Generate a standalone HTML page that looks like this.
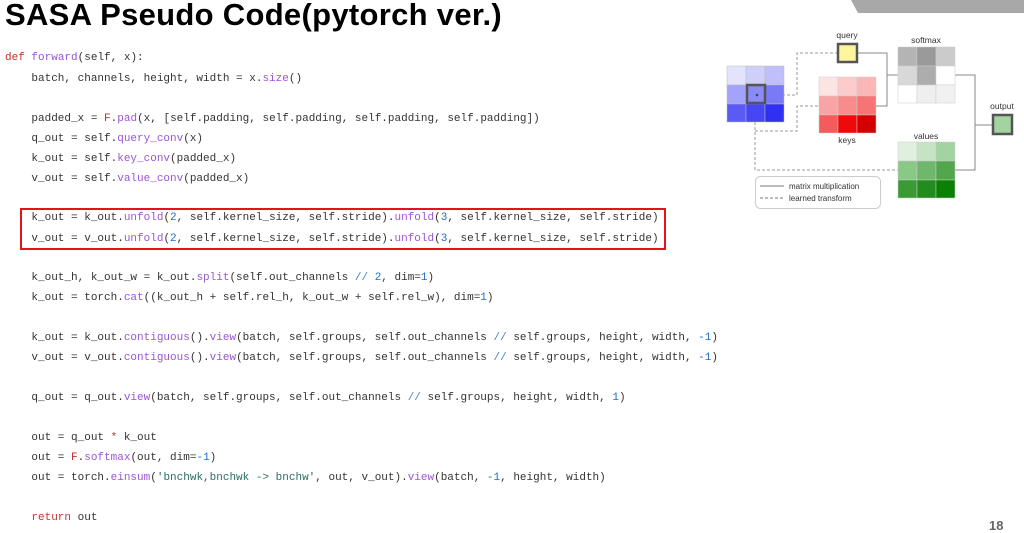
<!DOCTYPE html>
<html><head><meta charset="utf-8"><style>
html,body{margin:0;padding:0;background:#fff;}
body{width:1024px;height:531px;position:relative;overflow:hidden;}
.t{position:absolute;left:5px;top:-3px;font:bold 31px "Liberation Sans",sans-serif;color:#000;letter-spacing:0.3px;white-space:nowrap;}
.c{position:absolute;left:5px;font:11px/14px "Liberation Mono",monospace;color:#333;white-space:pre;}
.f{color:#9a55d4}.r{color:#c9302c}.n{color:#1c6fc9}.s{color:#2a6f5f}.o{color:#4a7fc0}
.box{position:absolute;left:20px;top:208px;width:642px;height:38px;border:2px solid #e8101a;}
.pg{position:absolute;left:989px;top:518px;font:bold 13px "Liberation Sans",sans-serif;color:#666;}
</style></head><body>
<div class="t">SASA Pseudo Code(pytorch ver.)</div>
<svg style="position:absolute;left:0;top:0" width="1024" height="531">
<polygon points="851,0 1024,0 1024,13 858,13" fill="#a8a8a8"/>
<g fill="none" stroke="#999" stroke-width="1" stroke-dasharray="3,2">
<polyline points="757,95 797,95 797,53 837,53"/>
<polyline points="755,122 755,170 898,170"/>
<polyline points="755,131 797,131 797,106 819,106"/>
</g>
<g fill="none" stroke="#888" stroke-width="1">
<polyline points="857,53 887,53 887,106 876,106"/>
<line x1="887" y1="75" x2="898" y2="75"/>
<polyline points="955,75 975,75 975,170 955,170"/>
<line x1="975" y1="125" x2="992" y2="125"/>
</g>
<g stroke="#bbb" stroke-width="0.5">
<rect x="727" y="66" width="19" height="19" fill="#e3e3fd"/><rect x="746" y="66" width="19" height="19" fill="#cfcffb"/><rect x="765" y="66" width="19" height="19" fill="#bfbffb"/>
<rect x="727" y="85" width="19" height="19" fill="#a3a3fb"/><rect x="746" y="85" width="19" height="19" fill="#8a8af8"/><rect x="765" y="85" width="19" height="19" fill="#7a7af7"/>
<rect x="727" y="104" width="19" height="18" fill="#5a5af5"/><rect x="746" y="104" width="19" height="18" fill="#4646f4"/><rect x="765" y="104" width="19" height="18" fill="#3030f2"/>
</g>
<rect x="747" y="85" width="18" height="18" fill="#8a8af8" stroke="#555" stroke-width="2.5"/>
<circle cx="757" cy="95" r="1.3" fill="#444"/>
<rect x="838" y="44" width="19" height="18" fill="#fff59a" stroke="#555" stroke-width="2.5"/>
<g stroke="#ccc" stroke-width="0.5">
<rect x="819" y="77" width="19" height="19" fill="#fde4e4"/><rect x="838" y="77" width="19" height="19" fill="#fccccc"/><rect x="857" y="77" width="19" height="19" fill="#fbb6b6"/>
<rect x="819" y="96" width="19" height="19" fill="#f9a4a4"/><rect x="838" y="96" width="19" height="19" fill="#f88c8c"/><rect x="857" y="96" width="19" height="19" fill="#f67474"/>
<rect x="819" y="115" width="19" height="18" fill="#f45c5c"/><rect x="838" y="115" width="19" height="18" fill="#ee0a0a"/><rect x="857" y="115" width="19" height="18" fill="#d40000"/>
</g>
<g stroke="#ccc" stroke-width="0.5">
<rect x="898" y="47" width="19" height="19" fill="#b4b4b4"/><rect x="917" y="47" width="19" height="19" fill="#9a9a9a"/><rect x="936" y="47" width="19" height="19" fill="#cbcbcb"/>
<rect x="898" y="66" width="19" height="19" fill="#d8d8d8"/><rect x="917" y="66" width="19" height="19" fill="#adadad"/><rect x="936" y="66" width="19" height="19" fill="#fff"/>
<rect x="898" y="85" width="19" height="18" fill="#fff"/><rect x="917" y="85" width="19" height="18" fill="#efefef"/><rect x="936" y="85" width="19" height="18" fill="#f1f1f1"/>
</g>
<g stroke="#ccc" stroke-width="0.5">
<rect x="898" y="142" width="19" height="19" fill="#e0f0df"/><rect x="917" y="142" width="19" height="19" fill="#c6e4c4"/><rect x="936" y="142" width="19" height="19" fill="#a3d3a0"/>
<rect x="898" y="161" width="19" height="19" fill="#8ac886"/><rect x="917" y="161" width="19" height="19" fill="#6fb76a"/><rect x="936" y="161" width="19" height="19" fill="#52a74c"/>
<rect x="898" y="180" width="19" height="18" fill="#3a9a34"/><rect x="917" y="180" width="19" height="18" fill="#238c1e"/><rect x="936" y="180" width="19" height="18" fill="#0a8005"/>
</g>
<rect x="993" y="115" width="19" height="19" fill="#a3d3a0" stroke="#555" stroke-width="2.5"/>
<g font-family="Liberation Sans,sans-serif" font-size="8.5" fill="#333" text-anchor="middle">
<text x="847" y="38">query</text><text x="926" y="43">softmax</text><text x="847" y="143">keys</text>
<text x="926" y="139">values</text><text x="1002" y="109">output</text>
</g>
<rect x="755.5" y="176.5" width="125" height="32" rx="5" fill="#fff" stroke="#ccc"/>
<line x1="760" y1="186" x2="784" y2="186" stroke="#777"/>
<line x1="760" y1="198" x2="784" y2="198" stroke="#777" stroke-dasharray="3,2"/>
<g font-family="Liberation Sans,sans-serif" font-size="8" fill="#333">
<text x="789" y="189">matrix multiplication</text><text x="789" y="201">learned transform</text>
</g>
</svg>
<div class="box"></div>
<div class="c" style="top:51px"><span class="r">def</span> <span class="f">forward</span>(self, x):</div>
<div class="c" style="top:72px">    batch, channels, height, width = x.<span class="f">size</span>()</div>
<div class="c" style="top:112px">    padded_x = <span class="r">F</span>.<span class="f">pad</span>(x, [self.padding, self.padding, self.padding, self.padding])</div>
<div class="c" style="top:132px">    q_out = self.<span class="f">query_conv</span>(x)</div>
<div class="c" style="top:152px">    k_out = self.<span class="f">key_conv</span>(padded_x)</div>
<div class="c" style="top:172px">    v_out = self.<span class="f">value_conv</span>(padded_x)</div>
<div class="c" style="top:211px">    k_out = k_out.<span class="f">unfold</span>(<span class="n">2</span>, self.kernel_size, self.stride).<span class="f">unfold</span>(<span class="n">3</span>, self.kernel_size, self.stride)</div>
<div class="c" style="top:232px">    v_out = v_out.<span class="f">unfold</span>(<span class="n">2</span>, self.kernel_size, self.stride).<span class="f">unfold</span>(<span class="n">3</span>, self.kernel_size, self.stride)</div>
<div class="c" style="top:271px">    k_out_h, k_out_w = k_out.<span class="f">split</span>(self.out_channels <span class="o">//</span> <span class="n">2</span>, dim=<span class="n">1</span>)</div>
<div class="c" style="top:291px">    k_out = torch.<span class="f">cat</span>((k_out_h + self.rel_h, k_out_w + self.rel_w), dim=<span class="n">1</span>)</div>
<div class="c" style="top:331px">    k_out = k_out.<span class="f">contiguous</span>().<span class="f">view</span>(batch, self.groups, self.out_channels <span class="o">//</span> self.groups, height, width, <span class="n">-1</span>)</div>
<div class="c" style="top:351px">    v_out = v_out.<span class="f">contiguous</span>().<span class="f">view</span>(batch, self.groups, self.out_channels <span class="o">//</span> self.groups, height, width, <span class="n">-1</span>)</div>
<div class="c" style="top:391px">    q_out = q_out.<span class="f">view</span>(batch, self.groups, self.out_channels <span class="o">//</span> self.groups, height, width, <span class="n">1</span>)</div>
<div class="c" style="top:431px">    out = q_out <span class="r">*</span> k_out</div>
<div class="c" style="top:451px">    out = <span class="r">F</span>.<span class="f">softmax</span>(out, dim=<span class="n">-1</span>)</div>
<div class="c" style="top:471px">    out = torch.<span class="f">einsum</span>(<span class="s">'bnchwk,bnchwk -&gt; bnchw'</span>, out, v_out).<span class="f">view</span>(batch, <span class="n">-1</span>, height, width)</div>
<div class="c" style="top:511px">    <span class="r">return</span> out</div>
<div class="pg">18</div>
</body></html>
